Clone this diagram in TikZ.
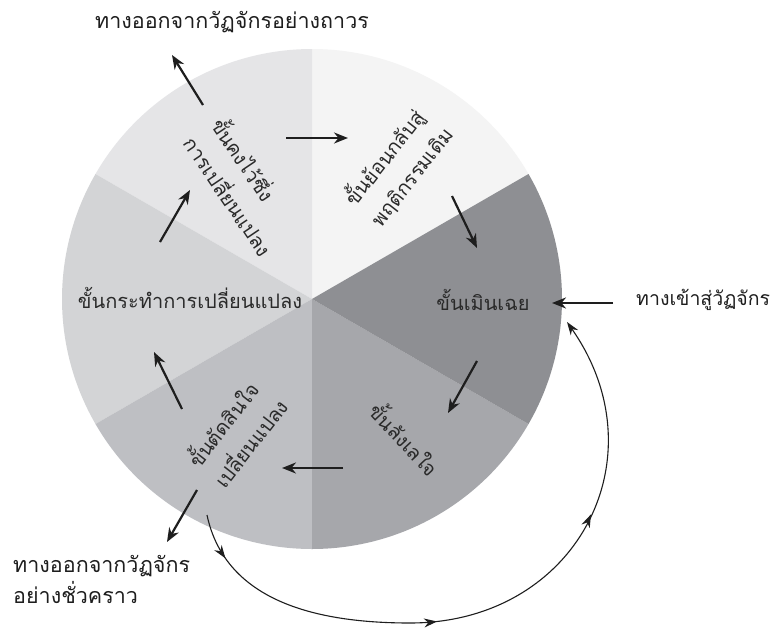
\documentclass[tikz,border=0pt]{standalone}
\usepackage{fontspec}
\newfontfamily\thaifont[Script=Thai]{Loma}
\usetikzlibrary{arrows.meta,decorations.markings}
\definecolor{secA}{HTML}{F4F4F4}
\definecolor{secB}{HTML}{E5E5E7}
\definecolor{secC}{HTML}{D3D4D6}
\definecolor{secD}{HTML}{BEBFC3}
\definecolor{secE}{HTML}{A6A7AB}
\definecolor{secF}{HTML}{8E8F93}
\definecolor{ink}{HTML}{1E1E1E}
\definecolor{txt}{HTML}{2A2A2A}
\begin{document}
\begin{tikzpicture}[x=1pt,y=-1pt,
  inner/.style={font=\thaifont\fontsize{20}{33}\selectfont, text=txt, inner sep=0pt},
  outer/.style={font=\thaifont\fontsize{21.5}{31}\selectfont, text=ink, inner sep=0pt},
  thick arrow/.style={draw=ink, line width=2.2pt, -{Stealth[length=14pt,width=11pt]}},
  thin arrow/.style={draw=ink, line width=1.1pt},
  threetips/.style n args={3}{postaction={decorate}, decoration={markings,
     mark=at position #1 with {\arrow{Stealth[length=13pt,width=9pt]}},
     mark=at position #2 with {\arrow{Stealth[length=13pt,width=9pt]}},
     mark=at position #3 with {\arrow{Stealth[length=13pt,width=9pt]}}}}
]
\useasboundingbox (0,0) rectangle (782,632);
\fill[white] (0,0) rectangle (782,632);
\coordinate (c) at (312,299);
% sectors
\fill[secA] (c) -- ++(30:250pt) arc[start angle=30,end angle=90,radius=250pt] -- cycle;
\fill[secB] (c) -- ++(90:250pt) arc[start angle=90,end angle=150,radius=250pt] -- cycle;
\fill[secC] (c) -- ++(150:250pt) arc[start angle=150,end angle=210,radius=250pt] -- cycle;
\fill[secD] (c) -- ++(210:250pt) arc[start angle=210,end angle=270,radius=250pt] -- cycle;
\fill[secE] (c) -- ++(270:250pt) arc[start angle=270,end angle=330,radius=250pt] -- cycle;
\fill[secF] (c) -- ++(-30:250pt) arc[start angle=-30,end angle=30,radius=250pt] -- cycle;

% stage labels
\node[inner, rotate=-56, align=left] (keep) at (244,186) {ขั้นคงไว้ซึ่ง\\การเปลี่ยนแปลง};
\node[inner, rotate=52, align=left] (back) at (398,166) {ขั้นย้อนกลับสู่\\พฤติกรรมเดิม};
\node[inner] (act) at (190,298) {ขั้นกระทำการเปลี่ยนแปลง};
\node[inner] (ignore) at (483,300) {ขั้นเมินเฉย};
\node[inner, rotate=-47] (hes) at (406,438) {ขั้นลังเลใจ};
\node[inner, rotate=52, align=left] (dec) at (236,432) {ขั้นตัดสินใจ\\เปลี่ยนแปลง};

% outer labels
\node[outer] (permexit) at (232,22) {ทางออกจากวัฏจักรอย่างถาวร};
\node[outer, font=\thaifont\fontsize{19.5}{30}\selectfont, anchor=west] (entry) at (636,300) {ทางเข้าสู่วัฏจักร};
\node[outer, anchor=north west, align=left] (tempexit) at (13,555) {ทางออกจากวัฏจักร\\อย่างชั่วคราว};

% arrow end points
\coordinate (a1s) at (203,105); \coordinate (a1e) at (172,55);
\coordinate (a2s) at (286,138); \coordinate (a2e) at (348,138);
\coordinate (a3s) at (452,196); \coordinate (a3e) at (477,248);
\coordinate (a4s) at (613,303); \coordinate (a4e) at (552,303);
\coordinate (a5s) at (477,361); \coordinate (a5e) at (448,413);
\coordinate (a6s) at (343,468); \coordinate (a6e) at (282,468);
\coordinate (a7s) at (182,409); \coordinate (a7e) at (154,352);
\coordinate (a8s) at (160,242); \coordinate (a8e) at (190,190);
\coordinate (a9s) at (197,490); \coordinate (a9e) at (167,542);

\draw[thick arrow] (a1s) -- (a1e);
\draw[thick arrow] (a2s) -- (a2e);
\draw[thick arrow] (a3s) -- (a3e);
\draw[thick arrow] (a4s) -- (a4e);
\draw[thick arrow] (a5s) -- (a5e);
\draw[thick arrow] (a6s) -- (a6e);
\draw[thick arrow] (a7s) -- (a7e);
\draw[thick arrow] (a8s) -- (a8e);
\draw[thick arrow] (a9s) -- (a9e);

% relapse loop
\coordinate (loopstart) at (207,515);
\coordinate (loopend) at (567,322);
\draw[thin arrow, threetips={0.07}{0.41}{0.70}, -{Stealth[length=13pt,width=9pt]}]
  (loopstart) to[out=-78,in=180] (410,623) to[out=0,in=-55,looseness=1.25] (loopend);
\end{tikzpicture}
\end{document}
